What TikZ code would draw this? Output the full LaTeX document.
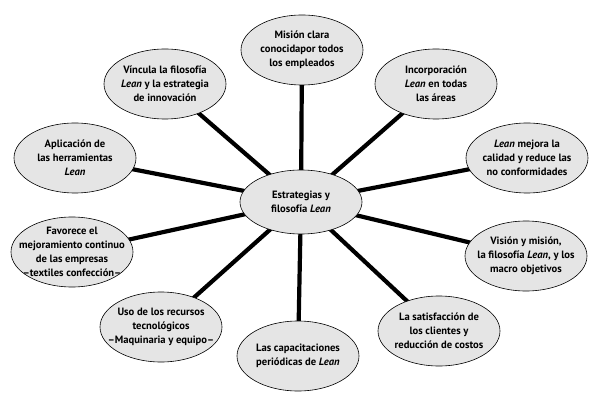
\documentclass[tikz,border=0pt]{standalone}
\usepackage{fontspec}
\setmainfont{PT Sans}
\usetikzlibrary{shapes.geometric,backgrounds}
\tikzset{
  idea/.style={ellipse, draw=black, line width=0.6pt, fill=gray!20, minimum width=122pt, minimum height=70pt, inner sep=0pt},
  ideatext/.style={align=center, inner sep=0pt, font=\bfseries\fontsize{10.6}{13.8}\selectfont},
  enlace/.style={line width=4.2pt, black}
}
\begin{document}
\begin{tikzpicture}[x=1pt,y=1pt]
	\useasboundingbox (0,0) rectangle (600,413);
	
	\node[idea, minimum height=64pt, label={[ideatext]center:{Estrategias y\\filosofía \textit{Lean}}}] (centro) at (301,211) {};
	
	\foreach \nombre/\pos/\texto in {
		mision/{302,363}/{Misión clara\\conocidapor todos\\los empleados},
		vincula/{165,329}/{Víncula la filosofía\\\textit{Lean} y la estrategia\\de innovación},
		incorpora/{436,329}/{Incorporación\\\textit{Lean} en todas\\las áreas},
		aplica/{75,255}/{Aplicación de\\las herramientas\\\textit{Lean}},
		mejora/{527,255}/{\textit{Lean} mejora la\\calidad y reduce las\\no conformidades},
		favorece/{72,161}/{Favorece el\\mejoramiento continuo\\de las empresas\\--textiles confección--},
		vision/{526,157}/{Visión y misión,\\la filosofía \textit{Lean}, y los\\macro objetivos},
		uso/{161,86}/{Uso de los recursos\\tecnológicos\\--Maquinaria y equipo--},
		satisface/{439,82}/{La satisfacción de\\los clientes y\\reducción de costos},
		capacita/{298,57}/{Las capacitaciones\\periódicas de \textit{Lean}}}
	\node[idea, label={[ideatext]center:\texto}] (\nombre) at (\pos) {};
	
	\begin{pgfonlayer}{background}
		\foreach \nombre in {mision,vincula,incorpora,aplica,mejora,favorece,vision,uso,satisface,capacita}
		\draw[enlace] (centro.center) -- (\nombre.center);
	\end{pgfonlayer}
\end{tikzpicture}
\end{document}
